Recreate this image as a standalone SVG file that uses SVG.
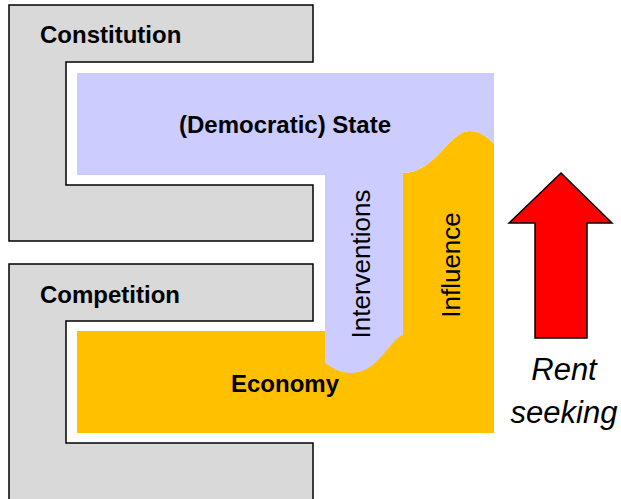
<svg xmlns="http://www.w3.org/2000/svg" width="621" height="499" viewBox="0 0 621 499">
<style>
.frame{fill:#D9D9D9;stroke:#000;stroke-width:1.5}
.lbl{font-family:"Liberation Sans",Arial,sans-serif;font-weight:bold;font-size:24px;fill:#000}
.vt{font-family:"Liberation Sans",Arial,sans-serif;font-size:26px;fill:#000;text-anchor:middle}
.it{font-family:"Liberation Sans",Arial,sans-serif;font-style:italic;font-size:31px;fill:#000;text-anchor:middle}
</style>
<rect width="621" height="499" fill="#fff"/>
<g id="constitution">
<path class="frame" d="M9,5 H313 V62 H66 V185 H313 V241 H9 Z"/>
<text class="lbl" x="40" y="43">Constitution</text>
</g>
<g id="competition">
<path class="frame" d="M9,264 H313 V321 H66 V443 H313 V510 H9 Z"/>
<text class="lbl" x="40" y="303">Competition</text>
</g>
<g id="economy">
<path fill="#FFC000" d="M77,331 H403 V173 C435,173 450,131 469,131 C480,131 488,137 494,144 V433 H77 Z"/>
<text class="lbl" x="285" y="392" text-anchor="middle">Economy</text>
<text class="vt" transform="translate(460,265) rotate(-90)">Influence</text>
</g>
<g id="state">
<path fill="#CCCCFF" d="M77,73 H494 V144 C488,137 480,131 469,131 C450,131 435,173 403,173 V335 C390,339 378,373 352,373 C340,373 332,368 325,363 V175 H77 Z"/>
<text class="lbl" x="285" y="133" text-anchor="middle">(Democratic) State</text>
<text class="vt" transform="translate(370,264) rotate(-90)">Interventions</text>
</g>
<g id="rent-seeking">
<path fill="#FF0000" stroke="#000" stroke-width="1.5" d="M561,173 L612,223 H587 V338 H535 V223 H509 Z"/>
<text class="it" x="564" y="380">Rent</text>
<text class="it" x="564" y="423">seeking</text>
</g>
<g id="connectors"></g>
</svg>
